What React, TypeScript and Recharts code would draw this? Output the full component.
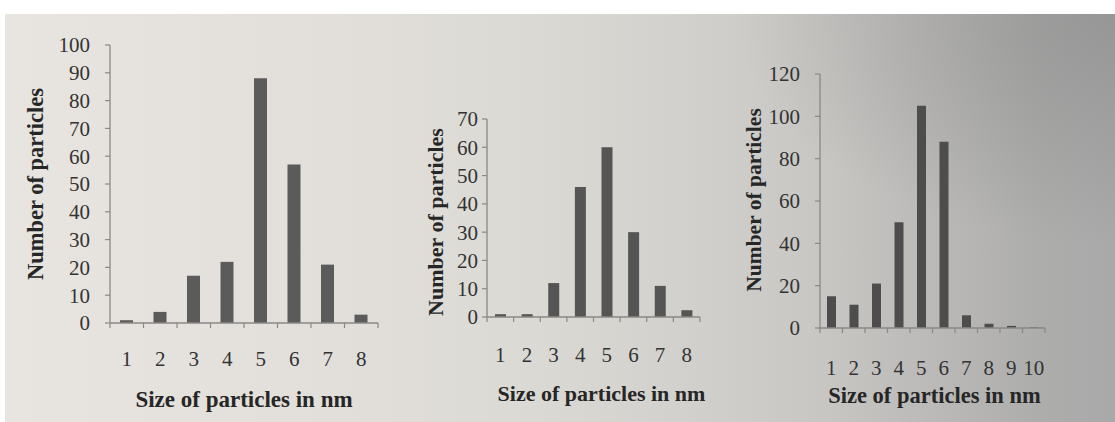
import React from 'react';
import { BarChart, Bar, XAxis, YAxis, Label } from 'recharts';

const sizes1 = ['1', '2', '3', '4', '5', '6', '7', '8'];
const counts1 = [1, 4, 17, 22, 88, 57, 21, 3];
const yTicks1 = [0, 10, 20, 30, 40, 50, 60, 70, 80, 90, 100];

const sizes2 = ['1', '2', '3', '4', '5', '6', '7', '8'];
const counts2 = [1, 1, 12, 46, 60, 30, 11, 2.4];
const yTicks2 = [0, 10, 20, 30, 40, 50, 60, 70];

const sizes3 = ['1', '2', '3', '4', '5', '6', '7', '8', '9', '10'];
const counts3 = [15, 11, 21, 50, 105, 88, 6, 2, 1, 0.3];
const yTicks3 = [0, 20, 40, 60, 80, 100, 120];

const xTitle = 'Size of particles in nm';
const yTitle = 'Number of particles';

const FONT = '"Liberation Serif", "DejaVu Serif", serif';
const AXIS = '#8a8885';
const TEXT = '#333333';

const build = (cats: string[], vals: number[]) => cats.map((c, i) => ({ size: c, count: vals[i] }));

function makeXTick(bw: number, base: number, fs: number) {
  return (p: any) => {
    const { x, y, payload, index } = p;
    return (
      <g>
        <text x={x} y={y + base} textAnchor="middle" fontSize={fs} fontFamily={FONT} fill={TEXT}>
          {payload.value}
        </text>
        <line x1={x + bw / 2} y1={y} x2={x + bw / 2} y2={y + 5} stroke={AXIS} strokeWidth={1.2} />
        {index === 0 ? <line x1={x - bw / 2} y1={y} x2={x - bw / 2} y2={y + 5} stroke={AXIS} strokeWidth={1.2} /> : null}
      </g>
    );
  };
}

function makeYTitle(dx: number, dy: number, fs: number) {
  return (p: any) => {
    const vb = p.viewBox || { x: 0, y: 0, width: 0, height: 0 };
    const cx = vb.x + dx;
    const cy = vb.y + vb.height / 2 + dy;
    return (
      <text
        x={cx}
        y={cy}
        transform={`rotate(-90, ${cx}, ${cy})`}
        textAnchor="middle"
        dominantBaseline="central"
        fontSize={fs}
        fontWeight="bold"
        fontFamily={FONT}
        fill="#262626"
      >
        {yTitle}
      </text>
    );
  };
}

function makeXTitle(dx: number, base: number, fs: number) {
  return (p: any) => {
    const vb = p.viewBox || { x: 0, y: 0, width: 0, height: 0 };
    return (
      <text
        x={vb.x + vb.width / 2 + dx}
        y={vb.y + base}
        textAnchor="middle"
        fontSize={fs}
        fontWeight="bold"
        fontFamily={FONT}
        fill="#262626"
      >
        {xTitle}
      </text>
    );
  };
}

type PanelProps = {
  left: number;
  width: number;
  data: { size: string; count: number }[];
  yTicks: number[];
  yMax: number;
  margin: { top: number; right: number; bottom: number; left: number };
  yWidth: number;
  xHeight: number;
  bw: number;
  barSize: number;
  tickBase: number;
  titleBase: number;
  titleDx: number;
  yTitleDx: number;
  yTitleDy: number;
  yTickGap: number;
  fill: string;
  titleFs: number;
  yTitleFs: number;
};

function Panel(p: PanelProps) {
  return (
    <div style={{ position: 'absolute', left: p.left, top: 0 }}>
      <BarChart width={p.width} height={422} data={p.data} margin={p.margin} barCategoryGap={0}>
        <XAxis
          dataKey="size"
          height={p.xHeight}
          tickSize={0}
          tickMargin={0}
          tickLine={false}
          axisLine={{ stroke: AXIS, strokeWidth: 1.3 }}
          interval={0}
          tick={makeXTick(p.bw, p.tickBase, 21)}
        >
          <Label content={makeXTitle(p.titleDx, p.titleBase, p.titleFs)} />
        </XAxis>
        <YAxis
          width={p.yWidth}
          domain={[0, p.yMax]}
          ticks={p.yTicks}
          interval={0}
          tickSize={5}
          tickMargin={p.yTickGap}
          tickLine={{ stroke: AXIS, strokeWidth: 1.2 }}
          axisLine={{ stroke: AXIS, strokeWidth: 1.3 }}
          tick={{ fontSize: 21, fontFamily: FONT, fill: TEXT }}
        >
          <Label content={makeYTitle(p.yTitleDx, p.yTitleDy, p.yTitleFs)} />
        </YAxis>
        <Bar dataKey="count" fill={p.fill} barSize={p.barSize} isAnimationActive={false} />
      </BarChart>
    </div>
  );
}

export default function App() {
  return (
    <div style={{ position: 'absolute', left: 0, top: 0, width: 1115, height: 422, background: '#ffffff', overflow: 'hidden' }}>
      <div
        style={{
          position: 'absolute',
          left: 5,
          top: 14,
          width: 1110,
          height: 408,
          background:
            'radial-gradient(ellipse 380px 230px at 100% 0%, rgba(135,135,135,0.55), rgba(135,135,135,0)), linear-gradient(to right, #e8e5e0 0%, #e2dfda 30%, #dbd9d4 48%, #d2d0cc 62%, #c7c6c3 74%, #bab9b7 84%, #adadac 93%, #a9a9a9 100%)',
        }}
      />
      <Panel
        left={0}
        width={400}
        data={build(sizes1, counts1)}
        yTicks={yTicks1}
        yMax={100}
        margin={{ top: 45, right: 22, bottom: 0, left: 0 }}
        yWidth={110}
        xHeight={99}
        bw={268 / 8}
        barSize={13}
        tickBase={43}
        titleBase={84}
        titleDx={0}
        yTitleDx={35}
        yTitleDy={0}
        yTickGap={15}
        fill="#5b5b5b"
        titleFs={23}
        yTitleFs={22.5}
      />
      <Panel
        left={400}
        width={320}
        data={build(sizes2, counts2)}
        yTicks={yTicks2}
        yMax={70}
        margin={{ top: 119, right: 20, bottom: 0, left: 0 }}
        yWidth={87}
        xHeight={105}
        bw={213 / 8}
        barSize={11}
        tickBase={45}
        titleBase={84}
        titleDx={8}
        yTitleDx={35}
        yTitleDy={4}
        yTickGap={4}
        fill="#555555"
        titleFs={22}
        yTitleFs={22}
      />
      <Panel
        left={720}
        width={395}
        data={build(sizes3, counts3)}
        yTicks={yTicks3}
        yMax={120}
        margin={{ top: 74, right: 70, bottom: 0, left: 0 }}
        yWidth={100}
        xHeight={94}
        bw={225 / 10}
        barSize={9}
        tickBase={47}
        titleBase={75}
        titleDx={2}
        yTitleDx={34}
        yTitleDy={-1}
        yTickGap={15}
        fill="#4d4d4d"
        titleFs={22.5}
        yTitleFs={21.5}
      />
    </div>
  );
}
